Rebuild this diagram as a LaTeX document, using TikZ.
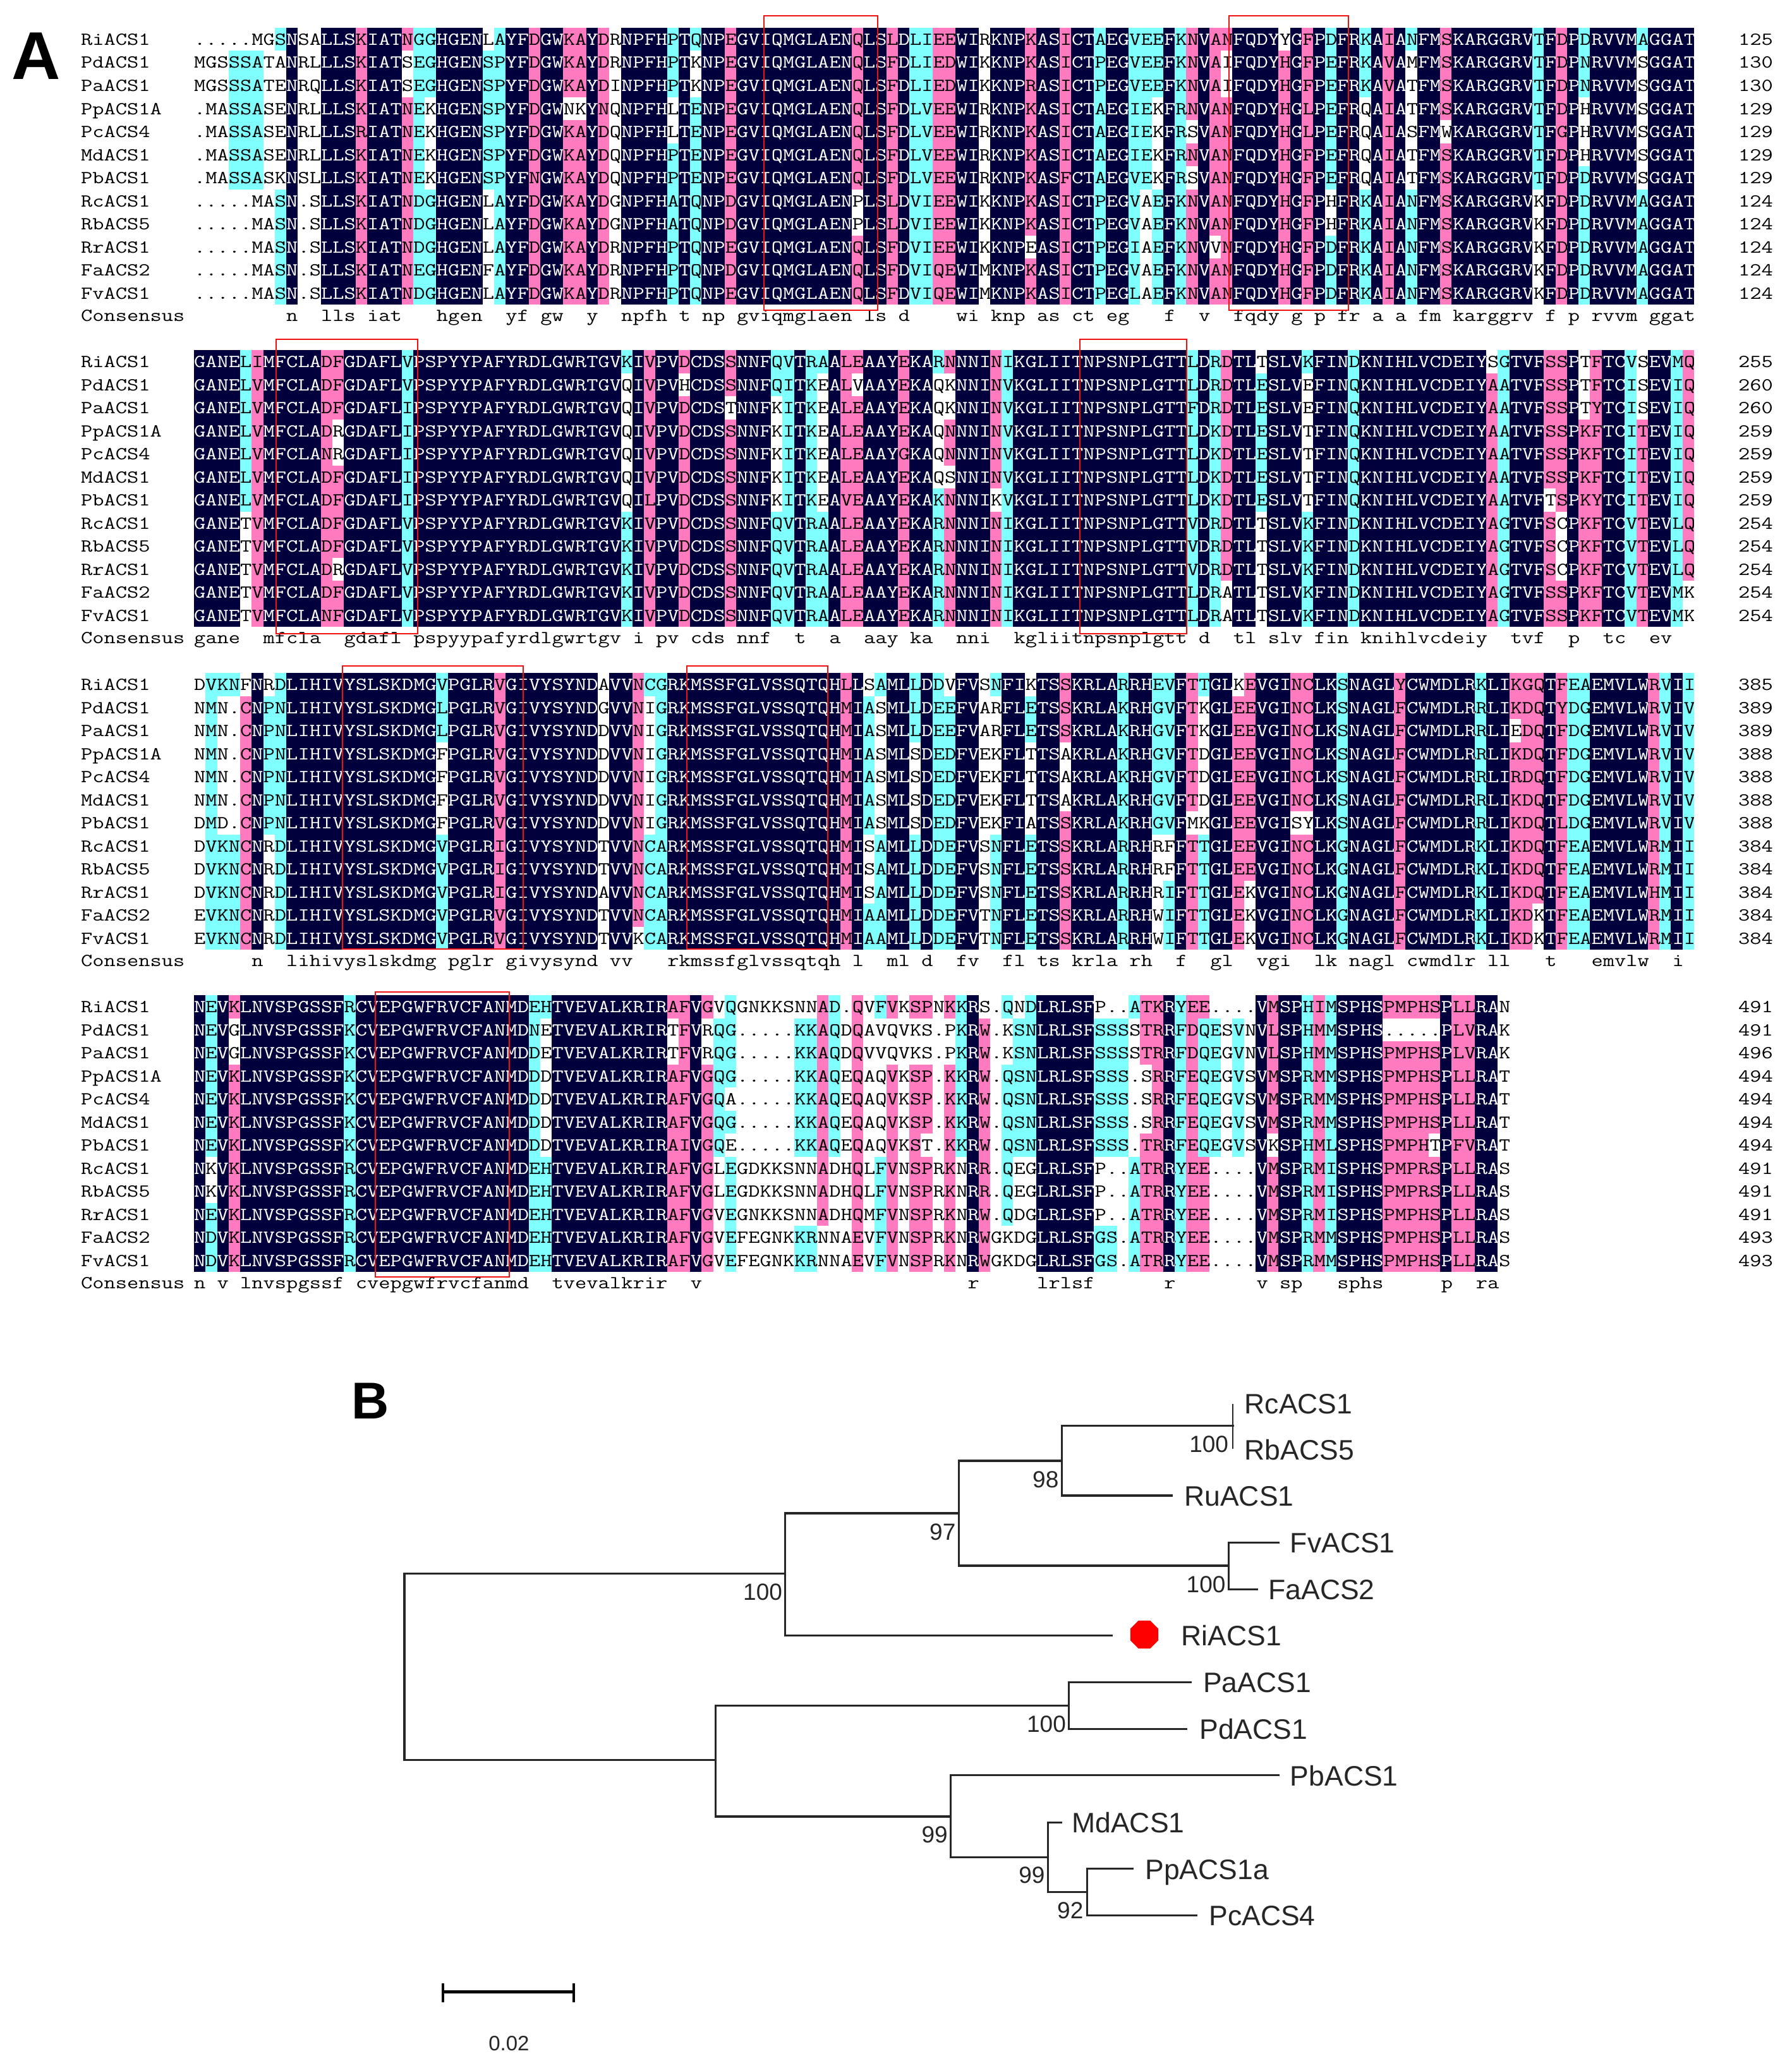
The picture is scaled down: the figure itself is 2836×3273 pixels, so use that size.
\documentclass[tikz,border=0pt]{standalone}
\usepackage{fontspec}
\setmainfont{Liberation Sans}
\usepackage{graphicx}
\usetikzlibrary{shapes.geometric}
\definecolor{nv}{HTML}{02003C}
\definecolor{pk}{HTML}{FF7ABF}
\definecolor{cy}{HTML}{80FFFF}
\definecolor{rd}{HTML}{F01010}
\definecolor{tr}{HTML}{262626}
\newcommand{\seqtxt}[1]{\scalebox{1.2238}[1]{\ttfamily\fontsize{29}{29}\selectfont #1}}
% cell rectangle: colour, col1, col2, row1, row2
\newcommand{\rcpath}[5]{\pgfpathrectanglecorners
  {\pgfqpoint{\dimexpr307pt+18.26pt*\numexpr#2-1\relax\relax}{\dimexpr-\bt pt-36.5pt*\numexpr#4-1\relax\relax}}
  {\pgfqpoint{\dimexpr307pt+18.26pt*#3\relax}{\dimexpr-\bt pt-36.5pt*#5\relax}}}
\newcommand{\rcfill}[5]{\begin{pgfscope}\pgfsetfillcolor{#1}\rcpath{#1}{#2}{#3}{#4}{#5}\pgfusepath{fill}\end{pgfscope}}
\let\rc\rcfill
\newcommand{\pk}[4]{\rc{pk}{#1}{#2}{#3}{#4}}
\newcommand{\cy}[4]{\rc{cy}{#1}{#2}{#3}{#4}}
\newcommand{\wh}[4]{\rc{white}{#1}{#2}{#3}{#4}}
\newcommand{\rw}[2]{\node[seqn,text=\tcol] (t\blk\tcol#1) at (307,\bt+27.5+36.5*#1-36.5) {\seqtxt{#2}};}
\newcommand{\drawblock}[4]{% name, top, segments, rows
  \def\blk{#1}\def\bt{#2}%
  \let\rc\rcfill
  \rc{nv}{1}{\lastcol}{1}{12}%
  \def\tcol{white}#4%
  #3%
  \begin{scope}
    \let\rc\rcpath
    #3\pgfusepath{clip}%
    \def\tcol{black}#4%
  \end{scope}
  \let\rc\rcfill
  \foreach \n [count=\i] in {RiACS1,PdACS1,PaACS1,PpACS1A,PcACS4,MdACS1,PbACS1,RcACS1,RbACS5,RrACS1,FaACS2,FvACS1}
    \node[seqn] (lab#1\i) at (128,\bt+27.5+36.5*\i-36.5) {\seqtxt{\n}};
  \node[seqn] (lab#1c) at (128,\bt+464) {\seqtxt{Consensus}};
}
\newcommand{\nums}[1]{\foreach \n [count=\i] in {#1}
    \node[seqn] (num\blk\i) at (2751,\bt+27.5+36.5*\i-36.5) {\seqtxt{\n}};}
\newcommand{\cons}[1]{\node[seqn] (cons\blk) at (307,\bt+464) {\seqtxt{#1}};}
\tikzset{
  seqn/.style={anchor=base west,inner sep=0pt,outer sep=0pt},
  redbox/.style={draw=rd,line width=2.6pt},
  tree/.style={draw=tr,line width=3.2pt,line cap=rect},
  thin tree/.style={draw=tr,line width=2pt},
  leaf/.style={anchor=west,inner sep=0pt,text=tr,text height=32pt,text depth=0pt,font=\fontsize{44.5}{44.5}\selectfont},
  boot/.style={anchor=east,inner sep=0pt,text=tr,text height=27pt,text depth=0pt,font=\fontsize{37}{37}\selectfont},
  panel/.style={anchor=base west,inner sep=0pt,font=\bfseries}
}
\def\segA{%
\wh{1}{8}{1}{12}\cy{8}{8}{1}{1}\cy{8}{8}{8}{12}\cy{4}{6}{2}{7}\wh{10}{11}{1}{12}\pk{15}{15}{1}{12}%
\pk{19}{19}{1}{12}\wh{19}{19}{2}{3}\cy{20}{21}{1}{12}\wh{21}{21}{4}{7}\wh{26}{26}{1}{12}\cy{26}{26}{2}{7}%
\cy{27}{27}{1}{12}\pk{30}{30}{1}{12}\pk{33}{34}{1}{12}\wh{33}{34}{4}{4}\pk{36}{36}{1}{12}\wh{37}{37}{1}{12}%
\cy{42}{42}{1}{12}\wh{42}{42}{4}{5}\cy{44}{44}{1}{12}\wh{44}{44}{2}{3}\pk{47}{47}{1}{12}%
\pk{58}{58}{1}{12}\wh{58}{58}{8}{9}\pk{61}{61}{1}{12}\cy{63}{64}{1}{12}\pk{65}{66}{1}{12}\wh{69}{69}{1}{12}%
\pk{73}{73}{1}{12}\wh{73}{73}{10}{10}\pk{76}{76}{1}{12}\cy{79}{79}{1}{12}%
\cy{82}{84}{1}{12}\wh{84}{84}{4}{7}\wh{83}{83}{8}{12}\cy{86}{86}{1}{12}%
\pk{87}{87}{1}{12}\wh{87}{87}{5}{5}\wh{87}{87}{7}{7}\pk{89}{89}{1}{12}\wh{89}{89}{10}{10}%
\pk{90}{90}{1}{12}\wh{90}{90}{2}{3}\pk{95}{95}{1}{12}\wh{95}{95}{1}{1}\pk{97}{97}{1}{12}%
\cy{99}{99}{1}{12}\wh{99}{99}{8}{9}\cy{102}{102}{1}{12}\wh{102}{102}{4}{7}\pk{104}{104}{1}{12}%
\cy{106}{106}{1}{12}\wh{106}{106}{2}{7}\pk{109}{109}{1}{12}\wh{109}{109}{5}{5}%
\cy{117}{117}{1}{12}\wh{117}{117}{8}{12}\pk{119}{119}{1}{12}\cy{121}{121}{1}{12}\wh{121}{121}{4}{6}%
\cy{126}{126}{1}{12}\wh{126}{126}{2}{7}}
\def\segB{%
\cy{5}{5}{1}{7}\wh{5}{5}{8}{12}\pk{6}{6}{1}{12}\pk{12}{13}{1}{12}\wh{13}{13}{4}{5}\wh{13}{13}{10}{10}%
\cy{19}{19}{1}{12}\cy{38}{38}{1}{12}\wh{38}{38}{2}{7}\pk{40}{40}{1}{12}\pk{43}{43}{1}{12}\wh{43}{43}{2}{2}%
\pk{47}{47}{1}{12}\wh{47}{47}{3}{3}\cy{51}{51}{1}{12}\wh{51}{51}{3}{7}\cy{52}{52}{1}{12}\cy{54}{54}{1}{12}%
\cy{55}{55}{1}{12}\wh{55}{55}{2}{7}\pk{57}{57}{1}{12}\pk{58}{58}{1}{12}\wh{58}{58}{2}{2}\pk{62}{62}{1}{12}%
\cy{65}{65}{1}{12}\wh{65}{65}{2}{6}\pk{66}{66}{1}{12}\wh{66}{66}{2}{3}\wh{66}{66}{6}{6}%
\pk{70}{70}{1}{12}\wh{70}{70}{7}{7}\cy{71}{71}{1}{12}\cy{87}{87}{1}{12}\cy{89}{89}{1}{12}%
\pk{90}{90}{1}{12}\wh{90}{90}{11}{12}\cy{93}{93}{2}{7}\wh{93}{93}{1}{1}\wh{93}{93}{8}{12}%
\cy{97}{97}{1}{12}\wh{97}{97}{2}{7}\cy{101}{101}{1}{12}\pk{113}{113}{2}{12}\wh{113}{113}{1}{1}%
\cy{114}{114}{1}{12}\pk{118}{118}{1}{12}\wh{118}{118}{7}{7}\pk{119}{119}{1}{12}\wh{119}{119}{8}{10}%
\pk{121}{121}{1}{12}\wh{121}{121}{1}{3}\pk{122}{122}{1}{12}\cy{125}{125}{1}{12}%
\pk{126}{126}{1}{12}\wh{126}{126}{1}{3}\cy{129}{129}{1}{12}\pk{130}{130}{1}{10}\wh{130}{130}{11}{12}}
\def\segC{%
\wh{1}{1}{1}{12}\cy{2}{2}{1}{12}\cy{3}{4}{1}{12}\wh{3}{4}{2}{7}\pk{5}{5}{1}{12}\wh{5}{5}{1}{1}%
\wh{7}{7}{1}{12}\cy{7}{7}{2}{7}\cy{8}{8}{1}{12}\cy{22}{22}{1}{12}\wh{22}{22}{4}{7}\pk{27}{27}{1}{12}%
\wh{36}{36}{1}{12}\pk{39}{39}{1}{11}\wh{39}{39}{12}{12}\cy{40}{40}{1}{12}\wh{40}{40}{2}{7}\cy{41}{41}{1}{12}%
\pk{57}{57}{1}{12}\cy{59}{59}{1}{12}\wh{59}{59}{1}{1}\wh{59}{59}{8}{10}\cy{60}{60}{1}{12}\wh{60}{60}{2}{7}%
\cy{63}{63}{1}{12}\wh{63}{63}{4}{7}\cy{65}{65}{1}{12}\cy{66}{66}{1}{12}\wh{66}{66}{1}{1}\wh{69}{69}{1}{12}%
\cy{70}{70}{1}{12}\wh{70}{70}{2}{7}\cy{73}{73}{1}{12}\wh{73}{73}{1}{1}\wh{73}{73}{4}{7}%
\pk{76}{76}{1}{12}\wh{76}{76}{4}{6}\cy{81}{81}{1}{12}\cy{84}{84}{1}{7}\wh{84}{84}{8}{12}%
\cy{85}{85}{1}{12}\wh{85}{85}{8}{9}\pk{87}{87}{1}{12}\wh{87}{87}{7}{7}\cy{88}{88}{1}{12}\wh{88}{88}{2}{7}%
\pk{91}{91}{1}{12}\wh{91}{91}{1}{1}\pk{92}{92}{1}{12}\wh{92}{92}{10}{12}\pk{96}{97}{1}{12}\wh{96}{97}{7}{7}%
\cy{100}{100}{1}{12}\pk{105}{105}{1}{12}\cy{112}{112}{1}{12}\pk{115}{116}{1}{12}\wh{115}{115}{3}{3}%
\pk{117}{117}{1}{12}\wh{117}{117}{11}{12}\pk{119}{119}{1}{12}\cy{120}{121}{1}{12}\pk{127}{127}{1}{12}%
\cy{128}{128}{1}{12}\cy{130}{130}{1}{12}}
\def\segD{%
\cy{2}{2}{1}{12}\wh{2}{2}{8}{9}\pk{4}{4}{1}{12}\wh{4}{4}{2}{3}\cy{14}{14}{1}{12}\cy{30}{30}{1}{12}%
\cy{31}{31}{1}{12}\wh{31}{31}{2}{7}\pk{42}{42}{1}{12}\wh{42}{42}{2}{3}\pk{43}{43}{1}{12}%
\pk{45}{45}{1}{12}\wh{45}{45}{2}{3}\wh{46}{46}{1}{12}\cy{46}{46}{2}{7}%
\cy{47}{47}{1}{12}\wh{47}{47}{5}{5}\wh{47}{47}{7}{7}\wh{48}{52}{1}{12}%
\wh{53}{54}{1}{12}\cy{53}{54}{2}{7}\cy{53}{54}{11}{12}\pk{55}{55}{1}{10}\wh{55}{55}{11}{12}%
\cy{56}{56}{1}{7}\wh{56}{56}{8}{12}\wh{57}{57}{1}{12}\pk{58}{58}{1}{12}\wh{59}{59}{1}{12}%
\cy{60}{60}{1}{12}\wh{60}{60}{2}{7}\pk{61}{61}{1}{12}\wh{61}{61}{2}{3}\wh{62}{62}{1}{12}%
\pk{63}{64}{1}{12}\wh{63}{64}{2}{3}\wh{64}{64}{7}{7}\wh{65}{65}{1}{12}\pk{66}{66}{1}{12}\wh{66}{66}{2}{3}%
\cy{67}{67}{1}{7}\wh{67}{67}{8}{12}\pk{69}{69}{2}{12}\wh{69}{69}{1}{1}\wh{70}{70}{1}{12}%
\wh{71}{73}{1}{12}\cy{71}{71}{1}{1}\cy{71}{71}{4}{10}\cy{72}{72}{2}{7}\cy{73}{73}{1}{7}%
\wh{79}{81}{1}{12}\cy{79}{81}{2}{7}\cy{79}{80}{11}{12}\wh{82}{82}{1}{12}\cy{82}{82}{1}{1}\cy{82}{82}{8}{12}%
\pk{83}{84}{1}{12}\wh{83}{83}{4}{6}\cy{86}{86}{1}{12}\pk{87}{87}{1}{12}\pk{88}{88}{1}{12}\cy{88}{88}{2}{7}%
\wh{89}{92}{1}{12}\cy{89}{89}{2}{7}\cy{91}{91}{2}{7}\pk{94}{94}{1}{12}\wh{94}{94}{7}{7}%
\cy{97}{97}{1}{12}\pk{98}{98}{1}{12}\cy{99}{99}{1}{12}\pk{104}{108}{1}{12}\wh{104}{108}{2}{2}\wh{108}{108}{7}{7}%
\pk{110}{111}{1}{12}\wh{114}{114}{1}{12}}
\def\rowsA{%
\rw{1}{.....MGSNSALLSKIATNGGHGENLAYFDGWKAYDRNPFHPTQNPEGVIQMGLAENQLSLDLIEEWIRKNPKASICTAEGVEEFKNVANFQDYYGFPDFRKAIANFMSKARGGRVTFDPDRVVMAGGAT}%
\rw{2}{MGSSSATANRLLLSKIATSEGHGENSPYFDGWKAYDRNPFHPTKNPEGVIQMGLAENQLSFDLIEDWIKKNPKASICTPEGVEEFKNVAIFQDYHGFPEFRKAVAMFMSKARGGRVTFDPNRVVMSGGAT}%
\rw{3}{MGSSSATENRQLLSKIATSEGHGENSPYFDGWKAYDINPFHPTKNPEGVIQMGLAENQLSFDLIEDWIKKNPRASICTPEGVEEFKNVAIFQDYHGFPEFRKAVATFMSKARGGRVTFDPNRVVMSGGAT}%
\rw{4}{.MASSASENRLLLSKIATNEKHGENSPYFDGWNKYNQNPFHLTENPEGVIQMGLAENQLSFDLVEEWIRKNPKASICTAEGIEKFRNVANFQDYHGLPEFRQAIATFMSKARGGRVTFDPHRVVMSGGAT}%
\rw{5}{.MASSASENRLLLSRIATNEKHGENSPYFDGWKAYDQNPFHLTENPEGVIQMGLAENQLSFDLVEEWIRKNPKASICTAEGIEKFRSVANFQDYHGLPEFRQAIASFMWKARGGRVTFGPHRVVMSGGAT}%
\rw{6}{.MASSASENRLLLSKIATNEKHGENSPYFDGWKAYDQNPFHPTENPEGVIQMGLAENQLSFDLVEEWIRKNPKASICTAEGIEKFRNVANFQDYHGFPEFRQAIATFMSKARGGRVTFDPHRVVMSGGAT}%
\rw{7}{.MASSASKNSLLLSKIATNEKHGENSPYFNGWKAYDQNPFHPTENPEGVIQMGLAENQLSFDLVEEWIRKNPKASFCTAEGVEKFRSVANFQDYHGFPEFRQAIATFMSKARGGRVTFDPDRVVMSGGAT}%
\rw{8}{.....MASN.SLLSKIATNDGHGENLAYFDGWKAYDGNPFHATQNPDGVIQMGLAENPLSLDVIEEWIKKNPKASICTPEGVAEFKNVANFQDYHGFPHFRKAIANFMSKARGGRVKFDPDRVVMAGGAT}%
\rw{9}{.....MASN.SLLSKIATNDGHGENLAYFDGWKAYDGNPFHATQNPDGVIQMGLAENPLSLDVIEEWIKKNPKASICTPEGVAEFKNVANFQDYHGFPHFRKAIANFMSKARGGRVKFDPDRVVMAGGAT}%
\rw{10}{.....MASN.SLLSKIATNDGHGENLAYFDGWKAYDRNPFHPTQNPEGVIQMGLAENQLSFDVIEEWIKKNPEASICTPEGIAEFKNVVNFQDYHGFPDFRKAIANFMSKARGGRVKFDPDRVVMAGGAT}%
\rw{11}{.....MASN.SLLSKIATNEGHGENFAYFDGWKAYDRNPFHPTQNPDGVIQMGLAENQLSFDVIQEWIMKNPKASICTPEGVAEFKNVANFQDYHGFPDFRKAIANFMSKARGGRVKFDPDRVVMAGGAT}%
\rw{12}{.....MASN.SLLSKIATNDGHGENLAYFDGWKAYDRNPFHPTQNPEGVIQMGLAENQLSFDVIQEWIMKNPKASICTPEGLAEFKNVANFQDYHGFPDFRKAIANFMSKARGGRVKFDPDRVVMAGGAT}}
\def\rowsB{%
\rw{1}{GANELIMFCLADFGDAFLVPSPYYPAFYRDLGWRTGVKIVPVDCDSSNNFQVTRAALEAAYEKARNNNINIKGLIITNPSNPLGTTLDRDTLTSLVKFINDKNIHLVCDEIYSGTVFSSPTFTCVSEVMQ}%
\rw{2}{GANELVMFCLADFGDAFLVPSPYYPAFYRDLGWRTGVQIVPVHCDSSNNFQITKEALVAAYEKAQKNNINVKGLIITNPSNPLGTTLDRDTLESLVEFINQKNIHLVCDEIYAATVFSSPTFTCISEVIQ}%
\rw{3}{GANELVMFCLADFGDAFLIPSPYYPAFYRDLGWRTGVQIVPVDCDSTNNFKITKEALEAAYEKAQKNNINVKGLIITNPSNPLGTTFDRDTLESLVEFINQKNIHLVCDEIYAATVFSSPTYTCISEVIQ}%
\rw{4}{GANELVMFCLADRGDAFLIPSPYYPAFYRDLGWRTGVQIVPVDCDSSNNFKITKEALEAAYEKAQNNNINVKGLIITNPSNPLGTTLDKDTLESLVTFINQKNIHLVCDEIYAATVFSSPKFTCITEVIQ}%
\rw{5}{GANELVMFCLANRGDAFLIPSPYYPAFYRDLGWRTGVQIVPVDCDSSNNFKITKEALEAAYGKAQNNNINVKGLIITNPSNPLGTTLDKDTLESLVTFINQKNIHLVCDEIYAATVFSSPKFTCITEVIQ}%
\rw{6}{GANELVMFCLADFGDAFLIPSPYYPAFYRDLGWRTGVQIVPVDCDSSNNFKITKEALEAAYEKAQSNNINVKGLIITNPSNPLGTTLDKDTLESLVTFINQKNIHLVCDEIYAATVFSSPKFTCITEVIQ}%
\rw{7}{GANELVMFCLADFGDAFLIPSPYYPAFYRDLGWRTGVQILPVDCDSSNNFKITKEAVEAAYEKAKNNNIKVKGLIITNPSNPLGTTLDKDTLESLVTFINQKNIHLVCDEIYAATVFTSPKYTCITEVIQ}%
\rw{8}{GANETVMFCLADFGDAFLVPSPYYPAFYRDLGWRTGVKIVPVDCDSSNNFQVTRAALEAAYEKARNNNINIKGLIITNPSNPLGTTVDRDTLTSLVKFINDKNIHLVCDEIYAGTVFSCPKFTCVTEVLQ}%
\rw{9}{GANETVMFCLADFGDAFLVPSPYYPAFYRDLGWRTGVKIVPVDCDSSNNFQVTRAALEAAYEKARNNNINIKGLIITNPSNPLGTTVDRDTLTSLVKFINDKNIHLVCDEIYAGTVFSCPKFTCVTEVLQ}%
\rw{10}{GANETVMFCLADRGDAFLVPSPYYPAFYRDLGWRTGVKIVPVDCDSSNNFQVTRAALEAAYEKARNNNINIKGLIITNPSNPLGTTVDRDTLTSLVKFINDKNIHLVCDEIYAGTVFSCPKFTCVTEVLQ}%
\rw{11}{GANETVMFCLADFGDAFLVPSPYYPAFYRDLGWRTGVKIVPVDCDSSNNFQVTRAALEAAYEKARNNNINIKGLIITNPSNPLGTTLDRATLTSLVKFINDKNIHLVCDEIYAGTVFSSPKFTCVTEVMK}%
\rw{12}{GANETVMFCLANFGDAFLVPSPYYPAFYRDLGWRTGVKIVPVDCDSSNNFQVTRAALEAAYEKARNNNINIKGLIITNPSNPLGTTLDRATLTSLVKFINDKNIHLVCDEIYAGTVFSSPKFTCVTEVMK}}
\def\rowsC{%
\rw{1}{DVKNFNRDLIHIVYSLSKDMGVPGLRVGIVYSYNDAVVNCGRKMSSFGLVSSQTQHLLSAMLLDDVFVSNFIKTSSKRLARRHEVFTTGLKEVGINCLKSNAGLYCWMDLRKLIKGQTFEAEMVLWRVII}%
\rw{2}{NMN.CNPNLIHIVYSLSKDMGLPGLRVGIVYSYNDGVVNIGRKMSSFGLVSSQTQHMIASMLLDEEFVARFLETSSKRLAKRHGVFTKGLEEVGINCLKSNAGLFCWMDLRRLIKDQTYDGEMVLWRVIV}%
\rw{3}{NMN.CNPNLIHIVYSLSKDMGLPGLRVGIVYSYNDDVVNIGRKMSSFGLVSSQTQHMIASMLLDEEFVARFLETSSKRLAKRHGVFTKGLEEVGINCLKSNAGLFCWMDLRRLIEDQTFDGEMVLWRVIV}%
\rw{4}{NMN.CNPNLIHIVYSLSKDMGFPGLRVGIVYSYNDDVVNIGRKMSSFGLVSSQTQHMIASMLSDEDFVEKFLTTSAKRLAKRHGVFTDGLEEVGINCLKSNAGLFCWMDLRRLIKDQTFDGEMVLWRVIV}%
\rw{5}{NMN.CNPNLIHIVYSLSKDMGFPGLRVGIVYSYNDDVVNIGRKMSSFGLVSSQTQHMIASMLSDEDFVEKFLTTSAKRLAKRHGVFTDGLEEVGINCLKSNAGLFCWMDLRRLIRDQTFDGEMVLWRVIV}%
\rw{6}{NMN.CNPNLIHIVYSLSKDMGFPGLRVGIVYSYNDDVVNIGRKMSSFGLVSSQTQHMIASMLSDEDFVEKFLTTSAKRLAKRHGVFTDGLEEVGINCLKSNAGLFCWMDLRRLIKDQTFDGEMVLWRVIV}%
\rw{7}{DMD.CNPNLIHIVYSLSKDMGFPGLRVGIVYSYNDDVVNIGRKMSSFGLVSSQTQHMIASMLSDEDFVEKFIATSSKRLAKRHGVFMKGLEEVGISYLKSNAGLFCWMDLRRLIKDQTLDGEMVLWRVIV}%
\rw{8}{DVKNCNRDLIHIVYSLSKDMGVPGLRIGIVYSYNDTVVNCARKMSSFGLVSSQTQHMISAMLLDDEFVSNFLETSSKRLARRHRFFTTGLEEVGINCLKGNAGLFCWMDLRKLIKDQTFEAEMVLWRMII}%
\rw{9}{DVKNCNRDLIHIVYSLSKDMGVPGLRIGIVYSYNDTVVNCARKMSSFGLVSSQTQHMISAMLLDDEFVSNFLETSSKRLARRHRFFTTGLEEVGINCLKGNAGLFCWMDLRKLIKDQTFEAEMVLWRMII}%
\rw{10}{DVKNCNRDLIHIVYSLSKDMGVPGLRIGIVYSYNDAVVNCARKMSSFGLVSSQTQHMISAMLLDDEFVSNFLETSSKRLARRHRIFTTGLEKVGINCLKGNAGLFCWMDLRKLIKDQTFEAEMVLWHMII}%
\rw{11}{EVKNCNRDLIHIVYSLSKDMGVPGLRVGIVYSYNDTVVNCARKMSSFGLVSSQTQHMIAAMLLDDEFVTNFLETSSKRLARRHWIFTTGLEKVGINCLKGNAGLFCWMDLRKLIKDKTFEAEMVLWRMII}%
\rw{12}{EVKNCNRDLIHIVYSLSKDMGVPGLRVGIVYSYNDTVVKCARKMSSFGLVSSQTQHMIAAMLLDDEFVTNFLETSSKRLARRHWIFTTGLEKVGINCLKGNAGLFCWMDLRKLIKDKTFEAEMVLWRMII}}
\def\rowsD{%
\rw{1}{NEVKLNVSPGSSFRCVEPGWFRVCFANMDEHTVEVALKRIRAFVGVQGNKKSNNAD.QVFVKSPNKKRS.QNDLRLSFP..ATKRYEE....VMSPHIMSPHSPMPHSPLLRAN}%
\rw{2}{NEVGLNVSPGSSFKCVEPGWFRVCFANMDNETVEVALKRIRTFVRQG.....KKAQDQAVQVKS.PKRW.KSNLRLSFSSSSTRRFDQESVNVLSPHMMSPHS.....PLVRAK}%
\rw{3}{NEVGLNVSPGSSFKCVEPGWFRVCFANMDDETVEVALKRIRTFVRQG.....KKAQDQVVQVKS.PKRW.KSNLRLSFSSSSTRRFDQEGVNVLSPHMMSPHSPMPHSPLVRAK}%
\rw{4}{NEVKLNVSPGSSFKCVEPGWFRVCFANMDDDTVEVALKRIRAFVGQG.....KKAQEQAQVKSP.KKRW.QSNLRLSFSSS.SRRFEQEGVSVMSPRMMSPHSPMPHSPLLRAT}%
\rw{5}{NEVKLNVSPGSSFKCVEPGWFRVCFANMDDDTVEVALKRIRAFVGQA.....KKAQEQAQVKSP.KKRW.QSNLRLSFSSS.SRRFEQEGVSVMSPRMMSPHSPMPHSPLLRAT}%
\rw{6}{NEVKLNVSPGSSFKCVEPGWFRVCFANMDDDTVEVALKRIRAFVGQG.....KKAQEQAQVKSP.KKRW.QSNLRLSFSSS.SRRFEQEGVSVMSPRMMSPHSPMPHSPLLRAT}%
\rw{7}{NEVKLNVSPGSSFKCVEPGWFRVCFANMDDDTVEVALKRIRAIVGQE.....KKAQEQAQVKST.KKRW.QSNLRLSFSSS.TRRFEQEGVSVKSPHMLSPHSPMPHTPFVRAT}%
\rw{8}{NKVKLNVSPGSSFRCVEPGWFRVCFANMDEHTVEVALKRIRAFVGLEGDKKSNNADHQLFVNSPRKNRR.QEGLRLSFP..ATRRYEE....VMSPRMISPHSPMPRSPLLRAS}%
\rw{9}{NKVKLNVSPGSSFRCVEPGWFRVCFANMDEHTVEVALKRIRAFVGLEGDKKSNNADHQLFVNSPRKNRR.QEGLRLSFP..ATRRYEE....VMSPRMISPHSPMPRSPLLRAS}%
\rw{10}{NEVKLNVSPGSSFRCVEPGWFRVCFANMDEHTVEVALKRIRAFVGVEGNKKSNNADHQMFVNSPRKNRW.QDGLRLSFP..ATRRYEE....VMSPRMISPHSPMPHSPLLRAS}%
\rw{11}{NDVKLNVSPGSSFRCVEPGWFRVCFANMDEHTVEVALKRIRAFVGVEFEGNKKRNNAEVFVNSPRKNRWGKDGLRLSFGS.ATRRYEE....VMSPRMMSPHSPMPHSPLLRAS}%
\rw{12}{NDVKLNVSPGSSFRCVEPGWFRVCFANMDEHTVEVALKRIRAFVGVEFEGNKKRNNAEVFVNSPRKNRWGKDGLRLSFGS.ATRRYEE....VMSPRMMSPHSPMPHSPLLRAS}}
\begin{document}
\begin{tikzpicture}[x=1pt,y=-1pt]
\useasboundingbox[fill=white] (0,0) rectangle (2836,3273);
\node[panel,font=\bfseries\fontsize{107}{107}\selectfont] (panelA) at (18,125) {A};
\def\lastcol{130}
\drawblock{A}{44}{\segA}{\rowsA}
\def\blk{A}\def\bt{44}
\nums{125,130,130,129,129,129,129,124,124,124,124,124}
\cons{~~~~~~~~n~~lls~iat~~~hgen~~yf~gw~~y~~npfh~t~np~gviqmglaen~ls~d~~~~wi~knp~as~ct~eg~~~f~~v~~fqdy~g~p~fr~a~a~fm~karggrv~f~p~rvvm~ggat}
\drawblock{B}{554}{\segB}{\rowsB}
\def\blk{B}\def\bt{554}
\nums{255,260,260,259,259,259,259,254,254,254,254,254}
\cons{gane~~mfcla~~gdafl~pspyypafyrdlgwrtgv~i~pv~cds~nnf~~t~~a~~aay~ka~~nni~~kgliitnpsnplgtt~d~~tl~slv~fin~knihlvcdeiy~~tvf~~p~~tc~~ev}
\drawblock{C}{1065}{\segC}{\rowsC}
\def\blk{C}\def\bt{1065}
\nums{385,389,389,388,388,388,388,384,384,384,384,384}
\cons{~~~~~n~~lihivyslskdmg~pglr~givysynd~vv~~~rkmssfglvssqtqh~l~~ml~d~~fv~~fl~ts~krla~rh~~f~~gl~~vgi~~lk~nagl~cwmdlr~ll~~~t~~~emvlw~~i}
\def\lastcol{113}
\drawblock{D}{1575}{\segD}{\rowsD}
\def\blk{D}\def\bt{1575}
\nums{491,491,496,494,494,494,494,491,491,491,493,493}
\cons{n~v~lnvspgssf~cvepgwfrvcfanmd~~tvevalkrir~~v~~~~~~~~~~~~~~~~~~~~~~~r~~~~~lrlsf~~~~~~r~~~~~~~v~sp~~~sphs~~~~~p~~ra}
% red boxes
\draw[redbox] (1209,25) rectangle (1389,491);
\draw[redbox] (1945,25) rectangle (2134,491);
\draw[redbox] (437,537) rectangle (661,1003);
\draw[redbox] (1709,537) rectangle (1878,1003);
\draw[redbox] (542,1054) rectangle (828,1502);
\draw[redbox] (1087,1054) rectangle (1310,1502);
\draw[redbox] (594,1570) rectangle (806,2021);
% panel B
\node[panel,font=\bfseries\fontsize{82}{82}\selectfont] (panelB) at (556,2245) {B};
\begin{scope}[x=1.148pt,y=-0.7163pt,shift={(500pt,-2150pt)}]
  \coordinate (root) at (122,681);
  \coordinate (a) at (647,475);
  \coordinate (b) at (551,887);
  \coordinate (a1) at (886,342);
  \coordinate (tRi) at (1097,612);
  \coordinate (a11) at (1028,226);
  \coordinate (a12) at (1258,458);
  \coordinate (a111) at (1264,149);
  \coordinate (tRu) at (1180,303);
  \coordinate (tRc) at (1264,100);
  \coordinate (tRb) at (1264,200);
  \coordinate (tFv) at (1327,407);
  \coordinate (tFa) at (1297,510);
  \coordinate (b1) at (1038,767);
  \coordinate (b2) at (875,1012);
  \coordinate (tPa) at (1206,715);
  \coordinate (tPd) at (1200,819);
  \coordinate (tPb) at (1327,921);
  \coordinate (b21) at (1009,1102);
  \coordinate (tMd) at (1027,1025);
  \coordinate (b211) at (1063,1179);
  \coordinate (tPp) at (1126,1127);
  \coordinate (tPc) at (1214,1231);
  \draw[tree] (root) |- (a);
  \draw[tree] (root) |- (b);
  \draw[tree] (a) |- (a1);
  \draw[tree] (a) |- (tRi);
  \draw[tree] (a1) |- (a11);
  \draw[tree] (a1) |- (a12);
  \draw[tree] (a11) |- (a111);
  \draw[tree] (a11) |- (tRu);
  \draw[thin tree] (tRc) -- (tRb);
  \draw[tree] (a12) |- (tFv);
  \draw[tree] (a12) |- (tFa);
  \draw[tree] (b) |- (b1);
  \draw[tree] (b) |- (b2);
  \draw[tree] (b1) |- (tPa);
  \draw[tree] (b1) |- (tPd);
  \draw[tree] (b2) |- (tPb);
  \draw[tree] (b2) |- (b21);
  \draw[tree] (b21) |- (tMd);
  \draw[tree] (b21) |- (b211);
  \draw[tree] (b211) |- (tPp);
  \draw[tree] (b211) |- (tPc);
  \node[leaf] (lRc) at (1280,100) {RcACS1};
  \node[leaf] (lRb) at (1280,202) {RbACS5};
  \node[leaf] (lRu) at (1197,304) {RuACS1};
  \node[leaf] (lFv) at (1343,407) {FvACS1};
  \node[leaf] (lFa) at (1313,510) {FaACS2};
  \node[leaf] (lRi) at (1193,612) {RiACS1};
  \node[leaf] (lPa) at (1223,716) {PaACS1};
  \node[leaf] (lPd) at (1218,819) {PdACS1};
  \node[leaf] (lPb) at (1343,922) {PbACS1};
  \node[leaf] (lMd) at (1042,1025) {MdACS1};
  \node[leaf] (lPp) at (1143,1129) {PpACS1a};
  \node[leaf] (lPc) at (1231,1231) {PcACS4};
  \node[regular polygon,regular polygon sides=8,fill=red,inner sep=0pt,minimum size=48pt] (dot) at (1142,610) {};
  \node[boot] (s1) at (1258,188) {100};
  \node[boot] (s2) at (1024,266) {98};
  \node[boot] (s3) at (882,382) {97};
  \node[boot] (s4) at (1254,498) {100};
  \node[boot] (s5) at (643,515) {100};
  \node[boot] (s6) at (1034,807) {100};
  \node[boot] (s7) at (871,1051) {99};
  \node[boot] (s8) at (1005,1141) {99};
  \node[boot] (s9) at (1058,1219) {92};
  \coordinate (sL) at (175,1400);
  \coordinate (sR) at (355,1400);
  \coordinate (sLa) at (175,1380);
  \coordinate (sLb) at (175,1422);
  \coordinate (sRa) at (355,1380);
  \coordinate (sRb) at (355,1422);
  \draw[draw=black,line width=5pt] (sL) -- (sR);
  \draw[draw=black,line width=4pt] (sLa) -- (sLb);
  \draw[draw=black,line width=4pt] (sRa) -- (sRb);
  \node[inner sep=0pt,text=tr,font=\fontsize{33}{33}\selectfont] (sT) at (266,1513) {0.02};
\end{scope}
\end{tikzpicture}
\end{document}
